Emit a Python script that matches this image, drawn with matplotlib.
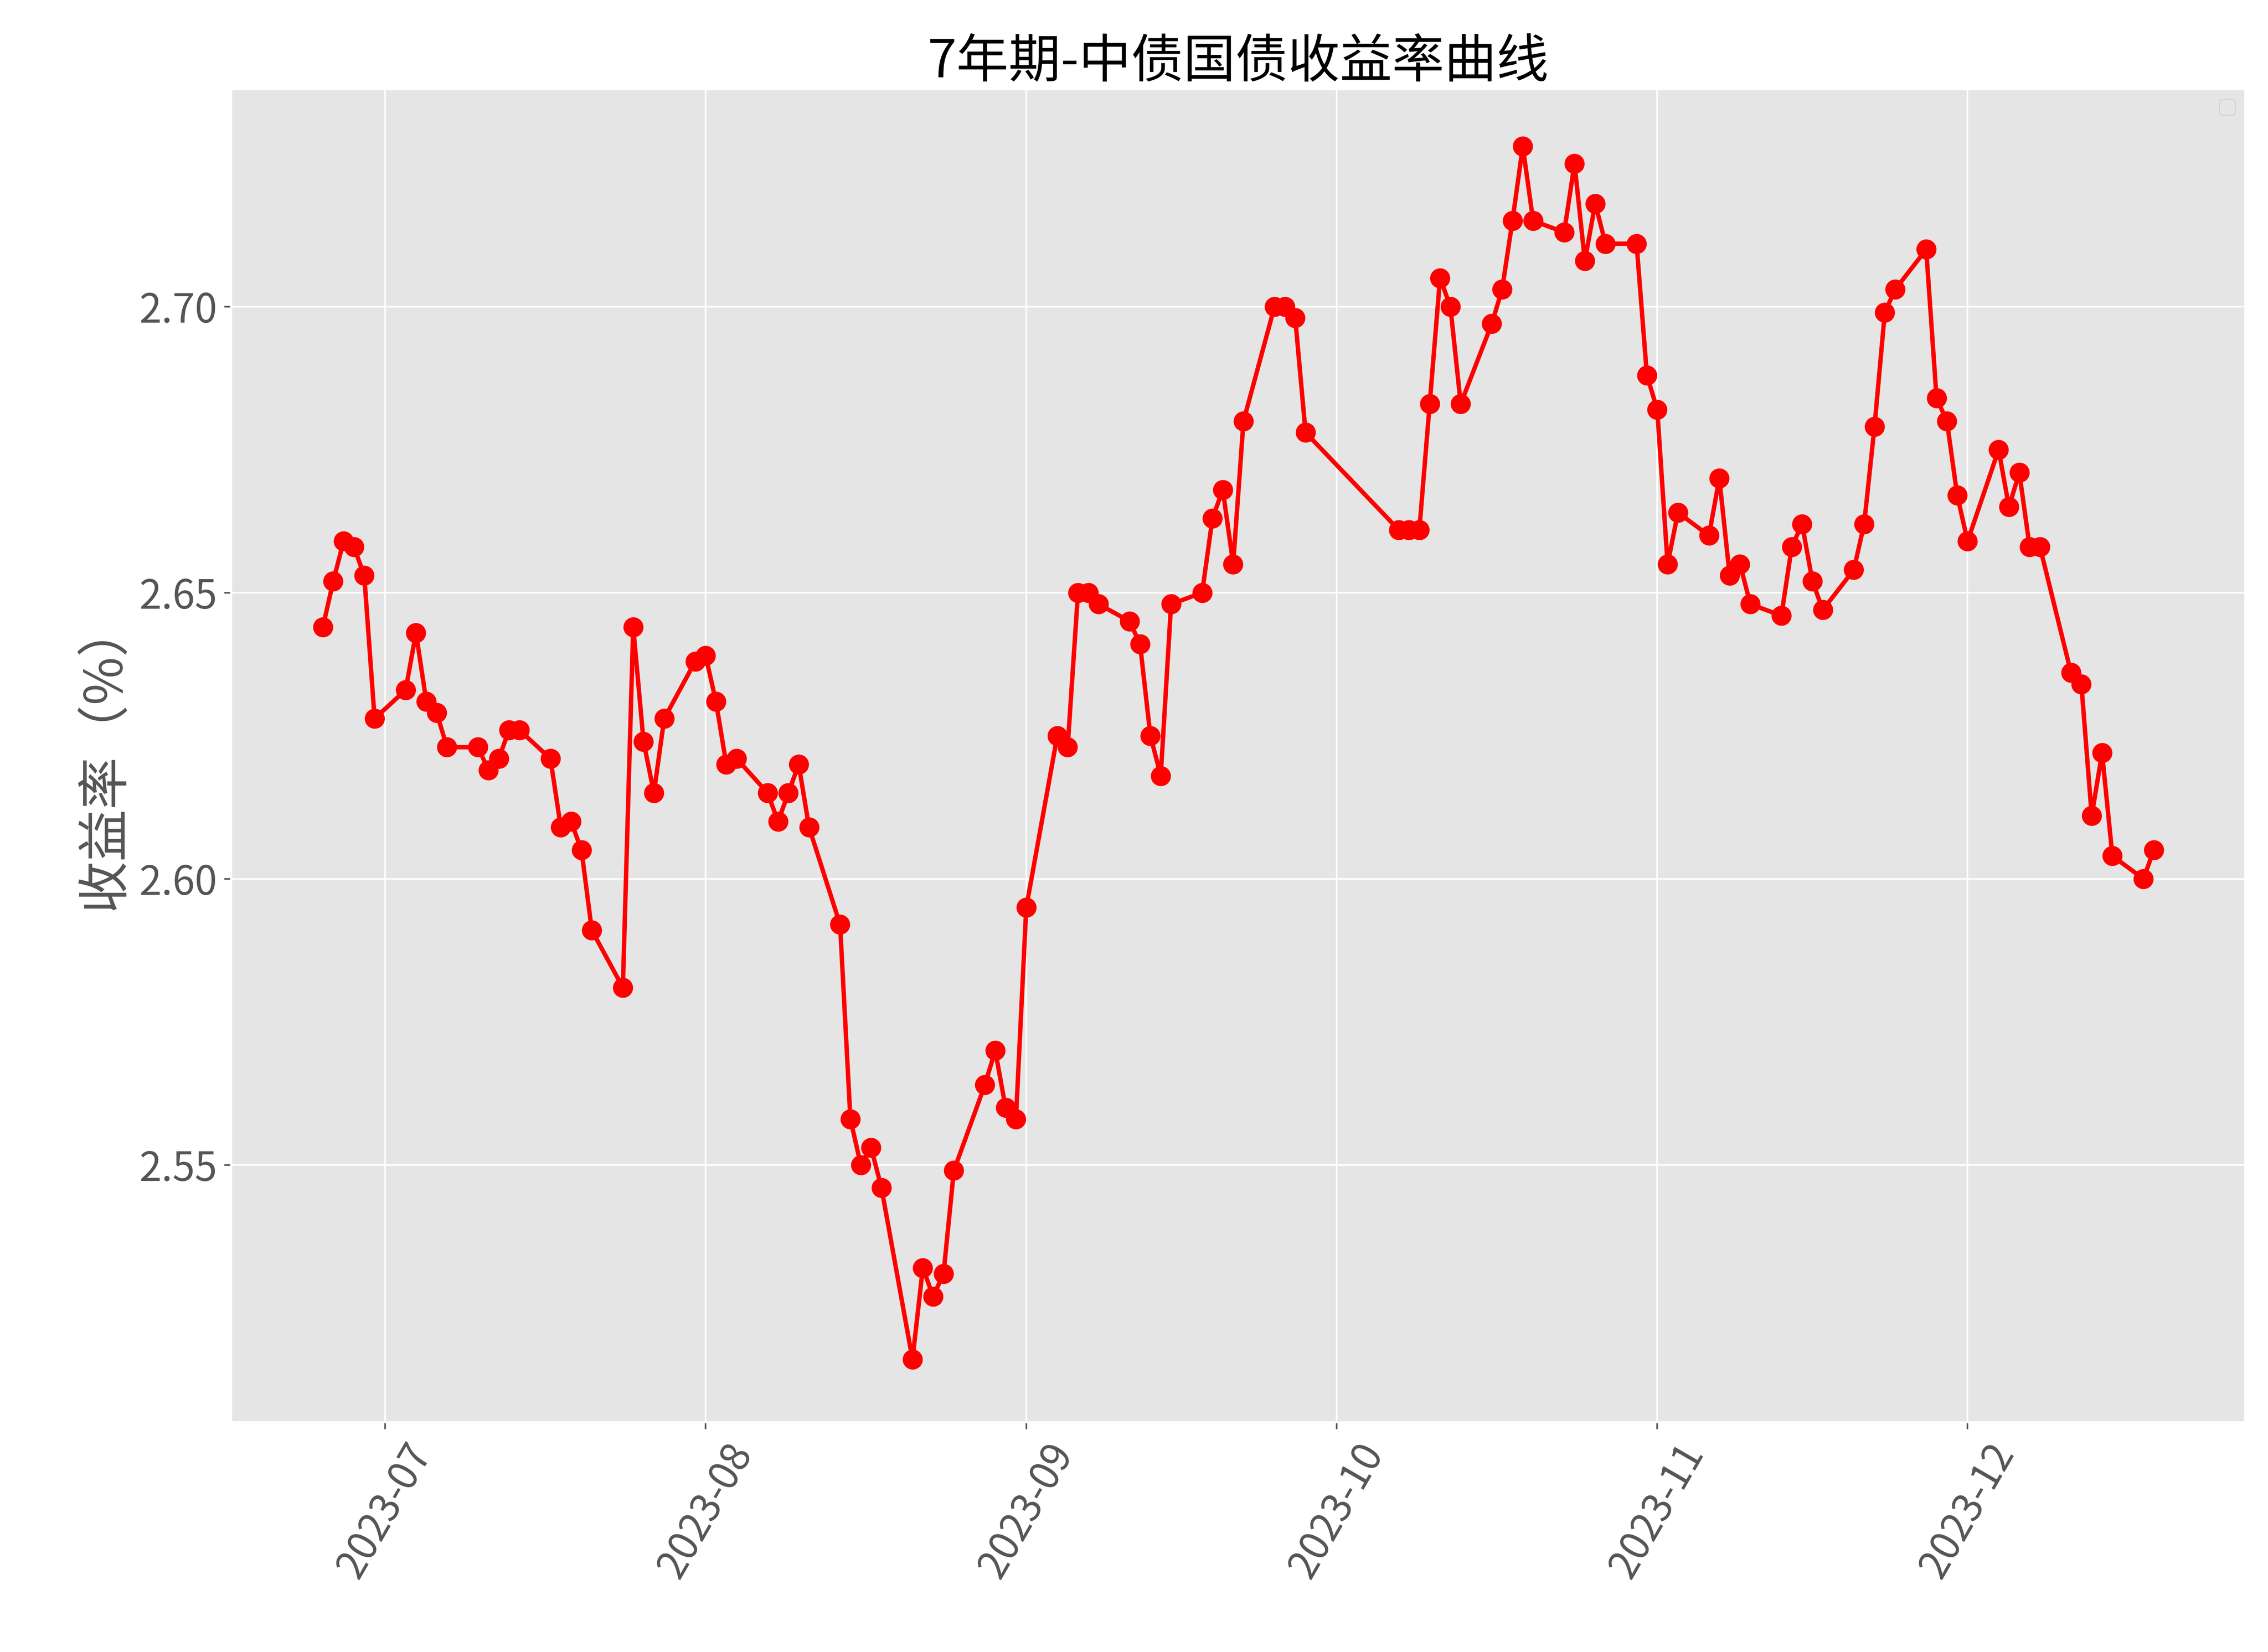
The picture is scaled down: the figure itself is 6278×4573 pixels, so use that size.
import matplotlib
matplotlib.use("Agg")
import matplotlib.pyplot as plt
import matplotlib.dates as mdates
import pandas as pd

plt.style.use("ggplot")
plt.rcParams['font.family'] = ['Noto Sans CJK SC', 'DejaVu Sans']
plt.rcParams['axes.unicode_minus'] = False

dates = ["2023-06-25","2023-06-26","2023-06-27","2023-06-28","2023-06-29","2023-06-30",
"2023-07-03","2023-07-04","2023-07-05","2023-07-06","2023-07-07",
"2023-07-10","2023-07-11","2023-07-12","2023-07-13","2023-07-14",
"2023-07-17","2023-07-18","2023-07-19","2023-07-20","2023-07-21",
"2023-07-24","2023-07-25","2023-07-26","2023-07-27","2023-07-28",
"2023-07-31","2023-08-01","2023-08-02","2023-08-03","2023-08-04",
"2023-08-07","2023-08-08","2023-08-09","2023-08-10","2023-08-11",
"2023-08-14","2023-08-15","2023-08-16","2023-08-17","2023-08-18",
"2023-08-21","2023-08-22","2023-08-23","2023-08-24","2023-08-25",
"2023-08-28","2023-08-29","2023-08-30","2023-08-31","2023-09-01",
"2023-09-04","2023-09-05","2023-09-06","2023-09-07","2023-09-08",
"2023-09-11","2023-09-12","2023-09-13","2023-09-14","2023-09-15",
"2023-09-18","2023-09-19","2023-09-20","2023-09-21","2023-09-22",
"2023-09-25","2023-09-26","2023-09-27","2023-09-28",
"2023-10-07","2023-10-08","2023-10-09","2023-10-10","2023-10-11","2023-10-12","2023-10-13",
"2023-10-16","2023-10-17","2023-10-18","2023-10-19","2023-10-20",
"2023-10-23","2023-10-24","2023-10-25","2023-10-26","2023-10-27",
"2023-10-30","2023-10-31","2023-11-01","2023-11-02","2023-11-03",
"2023-11-06","2023-11-07","2023-11-08","2023-11-09","2023-11-10",
"2023-11-13","2023-11-14","2023-11-15","2023-11-16","2023-11-17",
"2023-11-20","2023-11-21","2023-11-22","2023-11-23","2023-11-24",
"2023-11-27","2023-11-28","2023-11-29","2023-11-30","2023-12-01",
"2023-12-04","2023-12-05","2023-12-06","2023-12-07","2023-12-08",
"2023-12-11","2023-12-12","2023-12-13","2023-12-14","2023-12-15",
"2023-12-18","2023-12-19"]
yields = [2.644,2.652,2.659,2.658,2.653,2.628,
2.633,2.643,2.631,2.629,2.623,
2.623,2.619,2.621,2.626,2.626,
2.621,2.609,2.610,2.605,2.591,
2.581,2.644,2.624,2.615,2.628,
2.638,2.639,2.631,2.620,2.621,
2.615,2.610,2.615,2.620,2.609,
2.592,2.558,2.550,2.553,2.546,
2.516,2.532,2.527,2.531,2.549,
2.564,2.570,2.560,2.558,2.595,
2.625,2.623,2.650,2.650,2.648,
2.645,2.641,2.625,2.618,2.648,
2.650,2.663,2.668,2.655,2.680,
2.700,2.700,2.698,2.678,
2.661,2.661,2.661,2.683,2.705,2.700,2.683,
2.697,2.703,2.715,2.728,2.715,
2.713,2.725,2.708,2.718,2.711,
2.711,2.688,2.682,2.655,2.664,
2.660,2.670,2.653,2.655,2.648,
2.646,2.658,2.662,2.652,2.647,
2.654,2.662,2.679,2.699,2.703,
2.710,2.684,2.680,2.667,2.659,
2.675,2.665,2.671,2.658,2.658,
2.636,2.634,2.611,2.622,2.604,
2.600,2.605]

x = pd.to_datetime(dates)
fig = plt.figure(figsize=(15.695, 11.4325), dpi=400)
ax = fig.add_axes([0.102, 0.139, 0.888, 0.807])
ax.plot(x, yields, color='red', marker='o', markersize=9, linewidth=2.2)
ax.set_title("7年期-中债国债收益率曲线", fontsize=26, color='black')
ax.set_ylabel("收益率（%）", fontsize=26)
ax.xaxis.set_major_locator(mdates.MonthLocator())
ax.xaxis.set_major_formatter(mdates.DateFormatter("%Y-%m"))
ax.set_yticks([2.55, 2.60, 2.65, 2.70])
ax.set_yticklabels(["2.55", "2.60", "2.65", "2.70"])
ax.tick_params(axis='both', labelsize=20)
plt.setp(ax.get_xticklabels(), rotation=60)
ax.set_ylim(2.505, 2.738)
ax.legend(loc='upper right')
fig.savefig("out.png", dpi=400)
